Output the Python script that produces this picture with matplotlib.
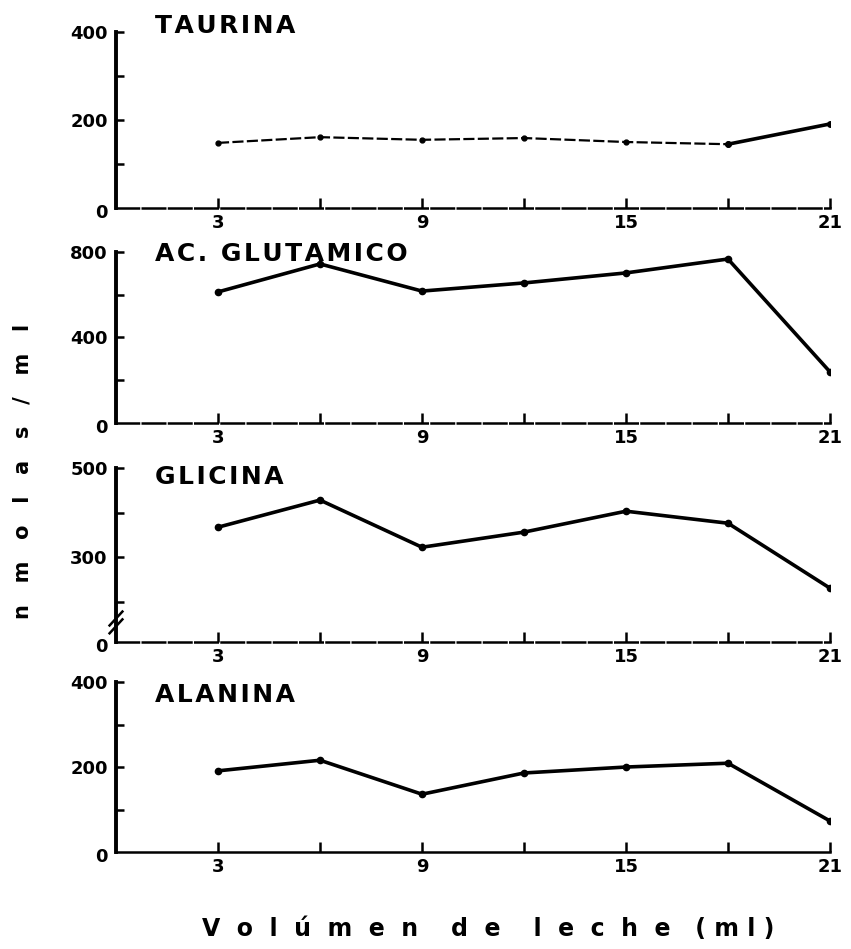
import matplotlib
matplotlib.use('Agg')
import matplotlib.pyplot as plt
from matplotlib.transforms import offset_copy

plt.rcParams['font.family'] = ['DejaVu Sans']
plt.rcParams['font.weight'] = 'bold'

# volumen de leche (ml)
volumen = [3, 6, 9, 12, 15, 18, 21]

# nmolas / ml
taurina = [148, 161, 155, 159, 150, 145, 191]
glutamico = [613, 744, 617, 655, 702, 767, 239]
glicina = [367, 428, 322, 356, 403, 376, 230]
alanina = [191, 216, 136, 186, 200, 209, 73]

nombres = ['TAURINA', 'AC. GLUTAMICO', 'GLICINA', 'ALANINA']
series = [taurina, glutamico, glicina, alanina]
limites = [(0, 400), (0, 800), (109, 500), (0, 400)]
yticks_may = [[200, 400], [400, 800], [300, 500], [200, 400]]
yticks_men = [[100, 300], [200, 600], [200, 400], [100, 300]]

# posiciones de los ejes (fraccion de la figura)
cajas = [
    [0.1363, 0.7808, 0.839, 0.1855],
    [0.1363, 0.5543, 0.839, 0.1802],
    [0.1363, 0.3235, 0.839, 0.1833],
    [0.1363, 0.1022, 0.839, 0.1791],
]
sube_titulo = [13, 7, 2, -1]  # puntos sobre el borde superior

fig = plt.figure(figsize=(8.51, 9.49), dpi=100)

for i in range(4):
    ax = fig.add_axes(cajas[i])
    y = series[i]
    if i == 0:
        ax.plot(volumen[:6], y[:6], color='black', lw=1.6, ls=(0, (5, 1.5)),
                marker='o', ms=3.5)
        ax.plot(volumen[5:], y[5:], color='black', lw=2.6, marker='o', ms=4)
    else:
        ax.plot(volumen, y, color='black', lw=2.6, marker='o', ms=4.5,
                solid_capstyle='round')

    ax.set_xlim(0, 21)
    ax.set_ylim(*limites[i])
    ax.set_xticks([3, 9, 15, 21])
    ax.set_xticks([6, 12, 18], minor=True)
    ax.set_yticks(yticks_may[i])
    ax.set_yticks(yticks_men[i], minor=True)
    ax.tick_params(axis='x', which='both', direction='in', length=7, width=1.8,
                   labelsize=13, pad=4)
    ax.tick_params(axis='y', which='both', direction='in', length=6, width=1.8,
                   labelsize=13, pad=6)

    for s in ['top', 'right']:
        ax.spines[s].set_visible(False)
    ax.spines['left'].set_linewidth(2.8)
    ax.spines['bottom'].set_linewidth(1.8)
    if i < 3:
        ax.spines['bottom'].set_linestyle((0, (9, 1.5)))

    ax.text(-0.021, -0.03, '0', transform=ax.transAxes, fontsize=13,
            ha='center', va='center', fontweight='bold')
    tr = offset_copy(ax.transAxes, fig=fig, x=0, y=sube_titulo[i], units='points')
    ax.text(0.055, 1.0, '\u200a'.join(nombres[i]), transform=tr, fontsize=18,
            ha='left', va='top', fontweight='bold')

    if i == 2:
        for d in [0.0, 0.045]:
            ax.plot([-0.009, 0.009], [0.05 + d, 0.13 + d], color='black',
                    lw=1.8, transform=ax.transAxes, clip_on=False)

fig.text(0.026, 0.503, 'n   m   o   l   a   s   /   m   l', rotation=90,
         fontsize=15, ha='center', va='center', fontweight='bold')
fig.text(0.574, 0.008, 'V  o  l  ú  m  e  n    d  e    l  e  c  h  e   ( m l )',
         fontsize=17, ha='center', va='bottom', fontweight='bold')

fig.savefig('out.png', dpi=100)
